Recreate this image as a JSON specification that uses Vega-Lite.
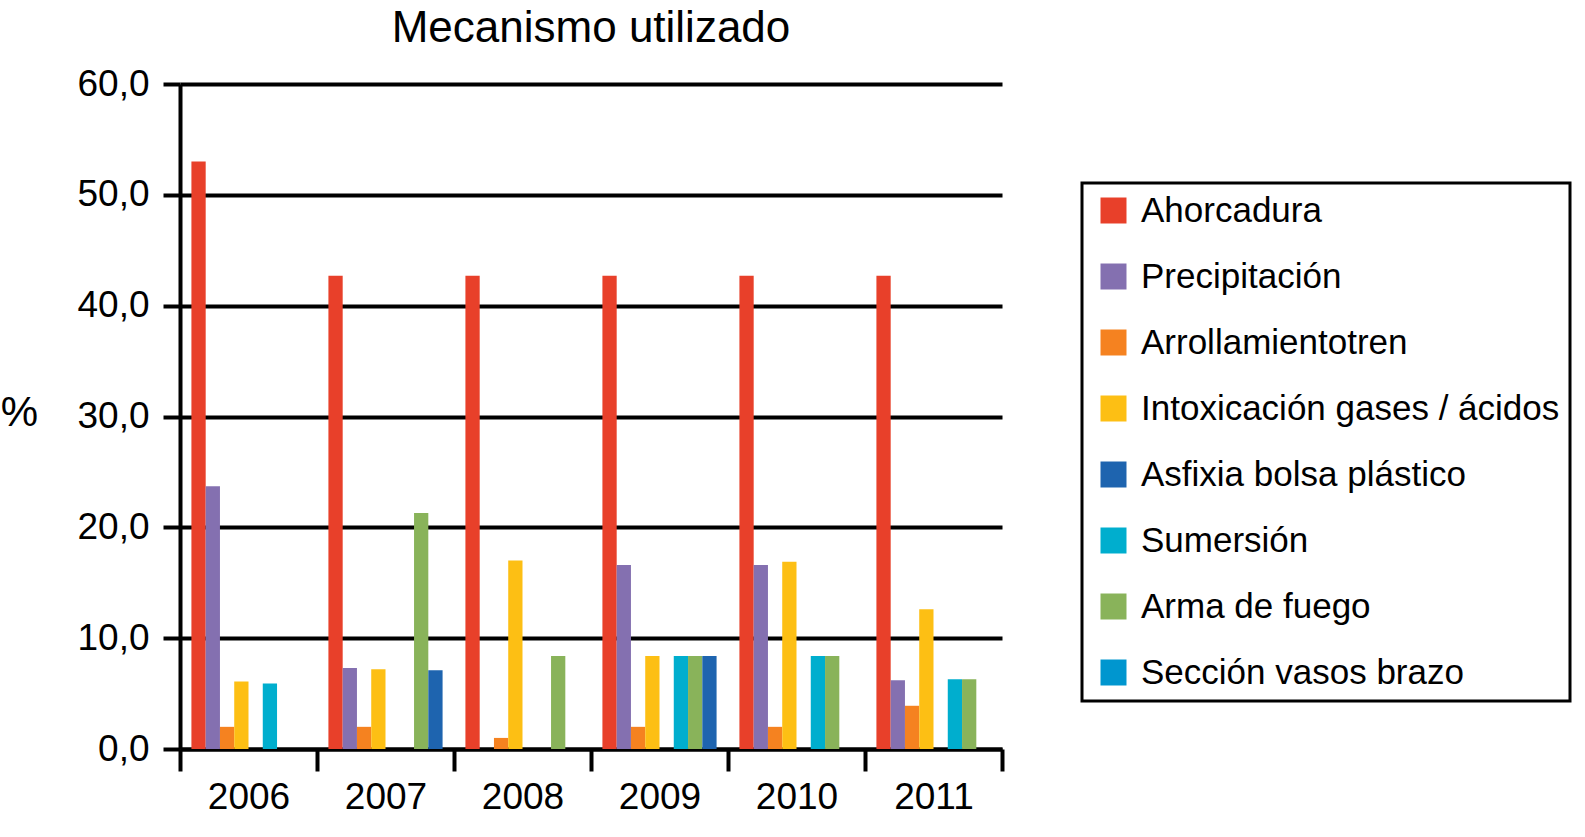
{
  "$schema": "https://vega.github.io/schema/vega-lite/v6.json",
  "autosize": "none",
  "width": 822,
  "height": 665,
  "padding": {"left": 180, "top": 84, "right": 583, "bottom": 88},
  "background": "white",
  "title": {"text": "Mecanismo utilizado", "anchor": "middle", "fontSize": 44, "font": "Liberation Sans", "fontWeight": "normal", "color": "black", "offset": 14},
  "config": {
    "view": {"stroke": null},
    "font": "Liberation Sans",
    "legend": {"strokeWidth": 3}
  },
  "data": {"values": [
    {"year": "2006", "mech": "Ahorcadura", "value": 53.0},
    {"year": "2006", "mech": "Precipitación", "value": 23.7},
    {"year": "2006", "mech": "Arrollamientotren", "value": 2.0},
    {"year": "2006", "mech": "Intoxicación gases / ácidos", "value": 6.1},
    {"year": "2006", "mech": "Sumersión", "value": 5.9},
    {"year": "2007", "mech": "Ahorcadura", "value": 42.7},
    {"year": "2007", "mech": "Precipitación", "value": 7.3},
    {"year": "2007", "mech": "Arrollamientotren", "value": 2.0},
    {"year": "2007", "mech": "Intoxicación gases / ácidos", "value": 7.2},
    {"year": "2007", "mech": "Arma de fuego", "value": 21.3},
    {"year": "2007", "mech": "Asfixia bolsa plástico", "value": 7.1},
    {"year": "2008", "mech": "Ahorcadura", "value": 42.7},
    {"year": "2008", "mech": "Arrollamientotren", "value": 1.0},
    {"year": "2008", "mech": "Intoxicación gases / ácidos", "value": 17.0},
    {"year": "2008", "mech": "Arma de fuego", "value": 8.4},
    {"year": "2009", "mech": "Ahorcadura", "value": 42.7},
    {"year": "2009", "mech": "Precipitación", "value": 16.6},
    {"year": "2009", "mech": "Arrollamientotren", "value": 2.0},
    {"year": "2009", "mech": "Intoxicación gases / ácidos", "value": 8.4},
    {"year": "2009", "mech": "Sumersión", "value": 8.4},
    {"year": "2009", "mech": "Arma de fuego", "value": 8.4},
    {"year": "2009", "mech": "Asfixia bolsa plástico", "value": 8.4},
    {"year": "2010", "mech": "Ahorcadura", "value": 42.7},
    {"year": "2010", "mech": "Precipitación", "value": 16.6},
    {"year": "2010", "mech": "Arrollamientotren", "value": 2.0},
    {"year": "2010", "mech": "Intoxicación gases / ácidos", "value": 16.9},
    {"year": "2010", "mech": "Sumersión", "value": 8.4},
    {"year": "2010", "mech": "Arma de fuego", "value": 8.4},
    {"year": "2011", "mech": "Ahorcadura", "value": 42.7},
    {"year": "2011", "mech": "Precipitación", "value": 6.2},
    {"year": "2011", "mech": "Arrollamientotren", "value": 3.9},
    {"year": "2011", "mech": "Intoxicación gases / ácidos", "value": 12.6},
    {"year": "2011", "mech": "Sumersión", "value": 6.3},
    {"year": "2011", "mech": "Arma de fuego", "value": 6.3}
  ]},
  "mark": {"type": "bar"},
  "encoding": {
    "x": {
      "field": "year", "type": "nominal",
      "scale": {"paddingInner": 0, "paddingOuter": 0},
      "axis": {
        "title": null, "labelAngle": 0, "tickBand": "extent",
        "tickSize": 22, "tickWidth": 4, "tickColor": "black",
        "domainColor": "black", "domainWidth": 4,
        "labelFontSize": 37, "labelColor": "black", "labelPadding": 8, "labelFont": "Liberation Sans"
      }
    },
    "xOffset": {
      "field": "mech", "type": "nominal",
      "scale": {
        "domain": ["Ahorcadura", "Precipitación", "Arrollamientotren", "Intoxicación gases / ácidos", "Sección vasos brazo", "Sumersión", "Arma de fuego", "Asfixia bolsa plástico"],
        "paddingInner": 0, "paddingOuter": 0.8
      }
    },
    "y": {
      "field": "value", "type": "quantitative",
      "scale": {"domain": [0, 60], "nice": false},
      "axis": {
        "values": [0, 10, 20, 30, 40, 50, 60],
        "labelExpr": "replace(format(datum.value, '.1f'), '.', ',')",
        "grid": true, "gridColor": "black", "gridWidth": 4, "gridOpacity": 1,
        "domainColor": "black", "domainWidth": 4,
        "tickColor": "black", "tickWidth": 4, "tickSize": 17,
        "labelFontSize": 37, "labelColor": "black", "labelPadding": 14, "labelFont": "Liberation Sans",
        "title": "%", "titleAngle": 0, "titleFontSize": 42, "titleFontWeight": "normal", "titleColor": "black",
        "titleFont": "Liberation Sans",
        "titleX": -161, "titleY": 328, "titleAlign": "center", "titleBaseline": "middle"
      }
    },
    "color": {
      "field": "mech", "type": "nominal",
      "scale": {
        "domain": ["Ahorcadura", "Precipitación", "Arrollamientotren", "Intoxicación gases / ácidos", "Asfixia bolsa plástico", "Sumersión", "Arma de fuego", "Sección vasos brazo"],
        "range": ["#E8402A", "#8470B0", "#F58220", "#FDBF14", "#1E64AF", "#00AECE", "#89B35A", "#0096CF"]
      },
      "legend": {
        "title": null,
        "orient": "none", "legendX": 902, "legendY": 99,
        "strokeColor": "black", "padding": 10,
        "symbolType": "square", "symbolSize": 676, "symbolStrokeWidth": 0, "symbolOffset": 4,
        "labelFontSize": 35, "labelColor": "black", "labelOffset": 10, "labelFont": "Liberation Sans",
        "labelLimit": 600, "rowPadding": 30
      }
    }
  }
}
